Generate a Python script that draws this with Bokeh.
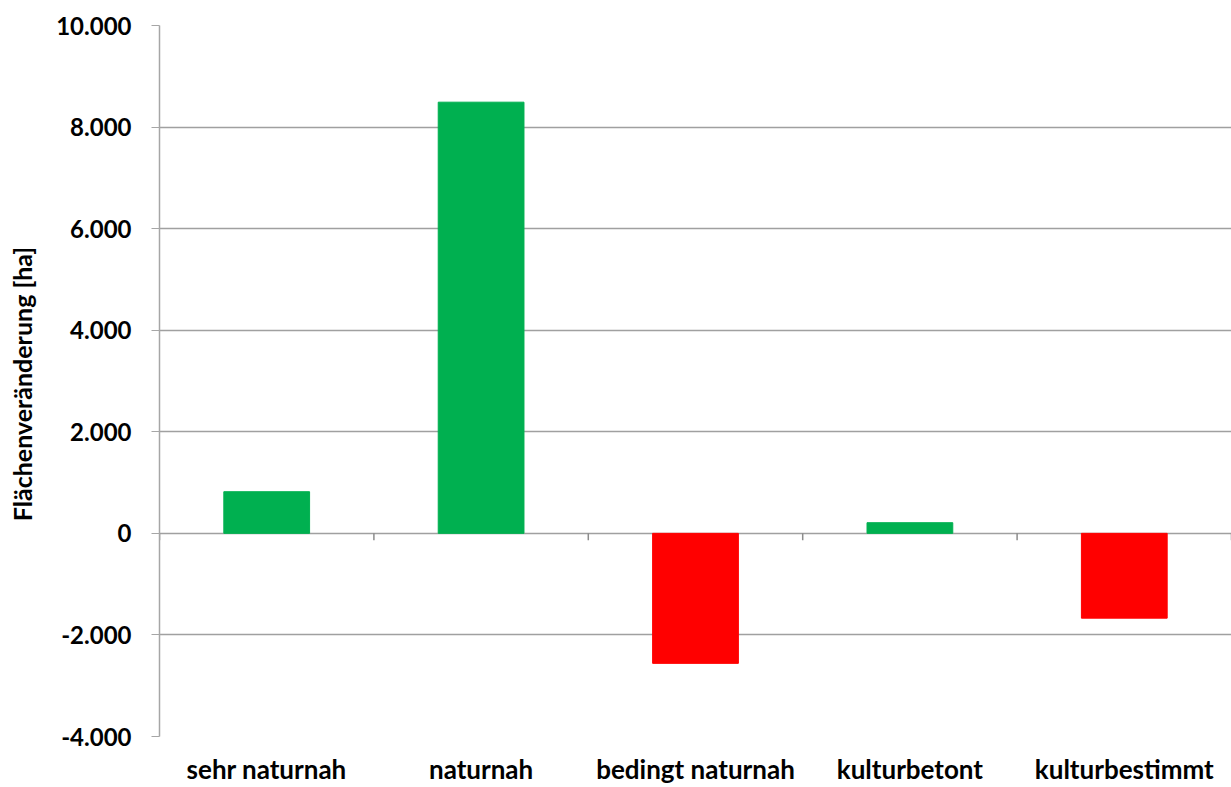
import math
from bokeh.plotting import figure
from bokeh.models import Range1d, FixedTicker, ColumnDataSource
from bokeh.embed import file_html
from bokeh.resources import INLINE

categories = ["sehr naturnah", "naturnah", "bedingt naturnah", "kulturbetont", "kulturbestimmt"]
values = [820, 8490, -2560, 210, -1670]
y_ticks = [-4000, -2000, 0, 2000, 4000, 6000, 8000, 10000]
y_tick_labels = ["-4.000", "-2.000", "0", "2.000", "4.000", "6.000", "8.000", "10.000"]
y_title = "Flächenveränderung  [ha]"

POS = "#00B050"
NEG = "#FF0000"
GRID = "#a0a0a0"
FONT = "Lato"

n = len(categories)
xs = [i + 0.5 for i in range(n)]
colors = [POS if v >= 0 else NEG for v in values]
src = ColumnDataSource(dict(x=xs, top=values, color=colors))

p = figure(width=1231, height=787, output_backend="svg", toolbar_location=None,
           x_range=Range1d(0, n), y_range=Range1d(y_ticks[0], y_ticks[-1]),
           min_border_left=159, min_border_right=0, min_border_top=25, min_border_bottom=49)
p.outline_line_color = None
p.background_fill_color = "white"

p.vbar(x="x", top="top", bottom=0, width=0.4, color="color", source=src)

# category-boundary ticks on the zero line
p.ray(x=list(range(n + 1)), y=[0] * (n + 1), length=7, length_units="screen",
      angle=-math.pi / 2, line_color="#8c8c8c", line_width=1.5)

# y axis
yax = p.yaxis[0]
yax.ticker = FixedTicker(ticks=y_ticks)
yax.major_label_overrides = {t: l for t, l in zip(y_ticks, y_tick_labels)}
yax.axis_line_color = "#a6a6a6"
yax.axis_line_width = 1.5
yax.major_tick_line_color = "#a6a6a6"
yax.major_tick_out = 8
yax.major_tick_in = 0
yax.minor_tick_line_color = None
yax.major_label_text_font = FONT
yax.major_label_text_font_style = "bold"
yax.major_label_text_font_size = "24px"
yax.major_label_text_color = "black"
yax.major_label_standoff = 20
yax.axis_label = y_title
yax.axis_label_text_font = FONT
yax.axis_label_text_font_style = "bold"
yax.axis_label_text_font_size = "25px"
yax.axis_label_text_color = "black"
yax.axis_label_standoff = 16

# x axis (labels only)
xax = p.xaxis[0]
xax.ticker = FixedTicker(ticks=xs)
xax.major_label_overrides = {x: c for x, c in zip(xs, categories)}
xax.axis_line_color = None
xax.major_tick_line_color = None
xax.minor_tick_line_color = None
xax.major_tick_out = 0
xax.major_tick_in = 0
xax.major_label_text_font = FONT
xax.major_label_text_font_style = "bold"
xax.major_label_text_font_size = "26px"
xax.major_label_text_color = "black"
xax.major_label_standoff = 16

p.xgrid.grid_line_color = None
p.ygrid.ticker = FixedTicker(ticks=y_ticks)
p.ygrid.grid_line_color = GRID
p.ygrid.grid_line_width = 1.5

open("out.html", "w").write(file_html(p, INLINE))
